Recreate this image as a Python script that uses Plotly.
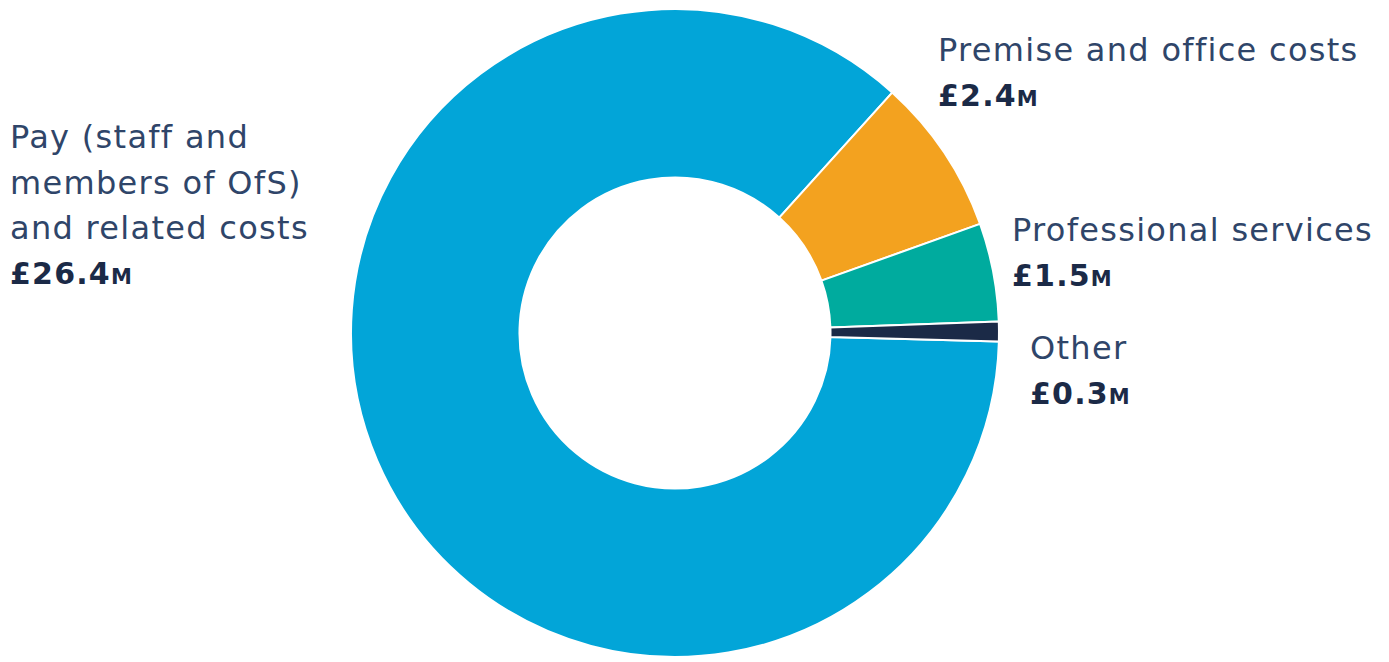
import plotly.graph_objects as go

# Expenditure breakdown (£ millions)
categories = ["Pay (staff and members of OfS) and related costs",
              "Premise and office costs",
              "Professional services",
              "Other"]
values = [26.4, 2.4, 1.5, 0.3]
label_lines = [["Pay (staff and", "members of OfS)", "and related costs"],
               ["Premise and office costs"],
               ["Professional services"],
               ["Other"]]
value_labels = ["£26.4", "£2.4", "£1.5", "£0.3"]
colors = ["#02A5D8", "#F3A21F", "#00AB9E", "#1B2A47"]

W, H = 1389, 662
cx, cy, r = 675, 333, 324  # donut centre and outer radius in px

fig = go.Figure(go.Pie(
    labels=categories,
    values=values,
    hole=0.48,
    sort=False,
    direction="clockwise",
    rotation=91.5,
    marker=dict(colors=colors, line=dict(color="white", width=2)),
    textinfo="none",
    hoverinfo="label+value",
    showlegend=False,
    domain=dict(x=[(cx - r) / W, (cx + r) / W],
                y=[(H - cy - r) / H, (H - cy + r) / H]),
))

TEXT = "#2F4569"
BOLD = "#1B2A47"
FONT = "DejaVu Sans"

# label block anchors: (left x, centre y of first line) in px
anchors = [(8, 137), (936, 50), (1010, 230), (1028, 348)]
step = 45.5

ann = []
for lines, val, (ax, ay) in zip(label_lines, value_labels, anchors):
    for i, line in enumerate(lines):
        ann.append(dict(x=ax / W, y=1 - (ay + i * step) / H, xref="paper", yref="paper",
                        xanchor="left", yanchor="middle", showarrow=False,
                        text=f"<span style='letter-spacing:1.3px'>{line}</span>",
                        font=dict(family=FONT, size=32, color=TEXT)))
    vy = ay + len(lines) * step
    ann.append(dict(x=ax / W, y=1 - vy / H, xref="paper", yref="paper",
                    xanchor="left", yanchor="middle", showarrow=False,
                    text=(f"<b><span style='letter-spacing:1.2px'>{val}</span>"
                          f"<span style='font-size:21px'>M</span></b>"),
                    font=dict(family=FONT, size=30, color=BOLD)))

fig.update_layout(
    width=W, height=H,
    margin=dict(l=0, r=0, t=0, b=0),
    paper_bgcolor="white",
    plot_bgcolor="white",
    annotations=ann,
)

fig.write_html("out.html")
